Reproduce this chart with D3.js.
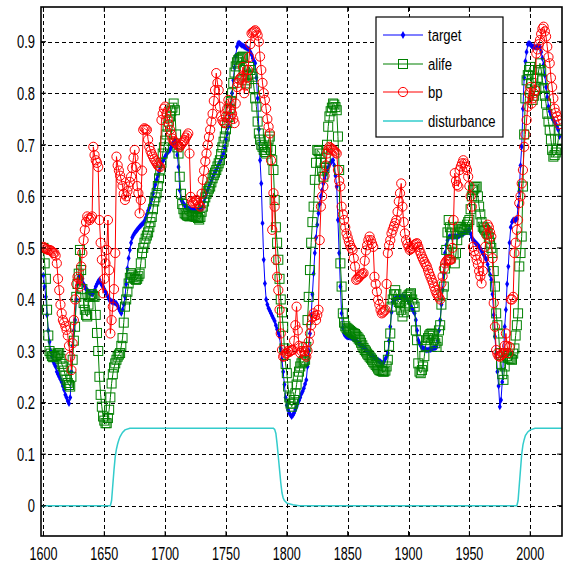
<!DOCTYPE html>
<html><head><meta charset="utf-8">
<script src="https://cdn.jsdelivr.net/npm/d3@7"></script>
<style>html,body{margin:0;padding:0;background:#fff;}svg{display:block;}</style>
</head><body>
<script>
// ---------- data (yearly, 1600..2024) ----------
const startYear = 1600;
const target = [
0.447,0.425,0.405,0.37,0.34,0.318,0.30,0.29,0.28,0.275,
0.27,0.26,0.255,0.25,0.245,0.24,0.232,0.225,0.215,0.21,
0.203,0.198,0.21,0.26,0.31,0.34,0.36,0.40,0.43,0.444,
0.445,0.444,0.44,0.43,0.425,0.42,0.418,0.415,0.413,0.412,
0.41,0.412,0.418,0.425,0.43,0.435,0.438,0.432,0.428,0.425,
0.42,0.415,0.41,0.405,0.40,0.398,0.396,0.395,0.394,0.393,
0.392,0.388,0.382,0.377,0.373,0.38,0.39,0.405,0.43,0.46,
0.48,0.496,0.51,0.52,0.525,0.529,0.532,0.535,0.538,0.541,
0.543,0.546,0.548,0.552,0.558,0.565,0.572,0.578,0.585,0.595,
0.605,0.615,0.623,0.632,0.64,0.648,0.655,0.662,0.668,0.672,
0.677,0.681,0.685,0.688,0.69,0.695,0.70,0.705,0.709,0.70,
0.68,0.657,0.612,0.595,0.59,0.586,0.583,0.58,0.578,0.576,
0.575,0.574,0.574,0.573,0.574,0.574,0.573,0.574,0.575,0.576,
0.574,0.58,0.59,0.598,0.606,0.612,0.618,0.624,0.63,0.636,
0.642,0.647,0.651,0.656,0.662,0.667,0.672,0.678,0.683,0.695,
0.71,0.722,0.735,0.755,0.778,0.80,0.825,0.85,0.872,0.89,
0.897,0.897,0.895,0.893,0.892,0.89,0.889,0.888,0.886,0.885,
0.88,0.875,0.868,0.862,0.858,0.83,0.79,0.73,0.67,0.625,
0.548,0.477,0.431,0.40,0.39,0.383,0.378,0.373,0.368,0.363,
0.358,0.35,0.342,0.335,0.328,0.305,0.283,0.26,0.235,0.21,
0.195,0.186,0.18,0.176,0.173,0.176,0.18,0.186,0.192,0.198,
0.204,0.21,0.217,0.222,0.228,0.236,0.244,0.27,0.30,0.334,
0.37,0.41,0.45,0.49,0.52,0.545,0.567,0.585,0.60,0.612,
0.625,0.635,0.643,0.65,0.656,0.662,0.665,0.668,0.67,0.66,
0.64,0.619,0.554,0.49,0.425,0.373,0.345,0.334,0.33,0.328,
0.327,0.327,0.326,0.326,0.325,0.324,0.322,0.319,0.317,0.315,
0.313,0.311,0.309,0.308,0.306,0.303,0.30,0.297,0.295,0.293,
0.291,0.289,0.287,0.285,0.283,0.282,0.28,0.279,0.277,0.276,
0.28,0.285,0.29,0.296,0.32,0.347,0.375,0.395,0.40,0.402,
0.403,0.404,0.405,0.405,0.405,0.406,0.405,0.405,0.405,0.40,
0.396,0.392,0.387,0.382,0.377,0.373,0.36,0.34,0.321,0.315,
0.31,0.307,0.305,0.304,0.303,0.302,0.302,0.303,0.303,0.304,
0.305,0.306,0.307,0.308,0.32,0.34,0.36,0.39,0.42,0.45,
0.49,0.505,0.515,0.52,0.522,0.522,0.521,0.522,0.522,0.522,
0.522,0.523,0.524,0.526,0.527,0.528,0.53,0.531,0.532,0.534,
0.535,0.528,0.52,0.515,0.513,0.51,0.508,0.505,0.502,0.499,
0.494,0.49,0.486,0.481,0.477,0.468,0.458,0.448,0.438,0.41,
0.37,0.328,0.295,0.26,0.232,0.192,0.205,0.24,0.29,0.347,
0.38,0.43,0.464,0.51,0.54,0.55,0.554,0.554,0.554,0.556,
0.58,0.61,0.66,0.696,0.77,0.83,0.862,0.88,0.895,0.897,
0.895,0.892,0.89,0.89,0.889,0.889,0.89,0.89,0.89,0.88,
0.868,0.855,0.835,0.812,0.792,0.774,0.765,0.758,0.752,0.748,
0.744,0.74,0.735,0.729,0.716];

const alife = [
0.50,0.47,0.44,0.38,0.33,0.30,0.295,0.29,0.288,0.289,
0.29,0.292,0.295,0.296,0.285,0.275,0.27,0.262,0.252,0.244,
0.238,0.234,0.231,0.25,0.283,0.32,0.347,0.405,0.43,0.45,
0.496,0.457,0.42,0.393,0.38,0.37,0.367,0.39,0.405,0.41,
0.41,0.407,0.405,0.37,0.335,0.30,0.25,0.215,0.192,0.173,
0.165,0.16,0.16,0.17,0.186,0.21,0.237,0.255,0.268,0.276,
0.283,0.289,0.293,0.296,0.31,0.325,0.355,0.386,0.40,0.415,
0.431,0.442,0.451,0.448,0.444,0.44,0.438,0.44,0.445,0.45,
0.47,0.49,0.50,0.51,0.518,0.524,0.53,0.54,0.55,0.56,
0.575,0.59,0.598,0.606,0.62,0.635,0.65,0.665,0.683,0.695,
0.708,0.72,0.735,0.745,0.755,0.765,0.772,0.78,0.767,0.72,
0.695,0.683,0.638,0.605,0.585,0.575,0.567,0.565,0.563,0.562,
0.561,0.562,0.563,0.562,0.561,0.56,0.561,0.558,0.555,0.56,
0.57,0.58,0.59,0.598,0.605,0.61,0.615,0.619,0.627,0.635,
0.641,0.646,0.651,0.658,0.664,0.67,0.682,0.695,0.706,0.716,
0.73,0.742,0.754,0.77,0.785,0.80,0.82,0.84,0.852,0.86,
0.864,0.866,0.868,0.87,0.871,0.845,0.825,0.819,0.835,0.851,
0.845,0.838,0.832,0.81,0.79,0.774,0.745,0.722,0.71,0.70,
0.696,0.69,0.686,0.683,0.695,0.71,0.716,0.69,0.67,0.651,
0.593,0.54,0.51,0.477,0.44,0.40,0.375,0.347,0.305,0.275,
0.257,0.231,0.21,0.198,0.192,0.198,0.205,0.218,0.235,0.25,
0.26,0.27,0.276,0.279,0.281,0.283,0.308,0.36,0.405,0.457,
0.51,0.55,0.58,0.632,0.665,0.69,0.688,0.683,0.665,0.65,
0.638,0.655,0.675,0.70,0.735,0.755,0.765,0.772,0.78,0.778,
0.773,0.767,0.716,0.651,0.47,0.425,0.373,0.355,0.348,0.345,
0.343,0.341,0.339,0.337,0.335,0.334,0.333,0.33,0.327,0.324,
0.321,0.316,0.311,0.306,0.302,0.299,0.295,0.292,0.289,0.286,
0.283,0.279,0.276,0.273,0.27,0.266,0.263,0.262,0.261,0.26,
0.26,0.262,0.27,0.283,0.31,0.334,0.386,0.40,0.41,0.418,
0.41,0.40,0.395,0.393,0.38,0.367,0.375,0.388,0.40,0.405,
0.408,0.41,0.412,0.40,0.393,0.386,0.34,0.321,0.276,0.26,
0.257,0.263,0.27,0.29,0.31,0.321,0.325,0.33,0.333,0.334,
0.33,0.322,0.315,0.308,0.32,0.34,0.35,0.39,0.41,0.425,
0.46,0.496,0.53,0.554,0.54,0.528,0.51,0.49,0.47,0.49,
0.515,0.53,0.541,0.54,0.537,0.536,0.535,0.54,0.545,0.55,
0.554,0.575,0.60,0.612,0.615,0.618,0.619,0.60,0.58,0.565,
0.55,0.541,0.538,0.535,0.532,0.528,0.52,0.51,0.50,0.49,
0.455,0.425,0.373,0.35,0.334,0.296,0.275,0.255,0.244,0.27,
0.296,0.29,0.287,0.285,0.284,0.283,0.295,0.305,0.33,0.35,
0.373,0.464,0.49,0.522,0.619,0.72,0.79,0.825,0.835,0.845,
0.851,0.82,0.787,0.795,0.805,0.812,0.83,0.845,0.858,0.845,
0.825,0.81,0.795,0.78,0.76,0.745,0.729,0.71,0.69,0.677,
0.68,0.685,0.69,0.71,0.729];

const bp = [
0.502,0.50,0.498,0.497,0.496,0.496,0.495,0.493,0.49,0.49,
0.485,0.47,0.44,0.418,0.39,0.373,0.36,0.355,0.348,0.341,
0.33,0.31,0.289,0.263,0.315,0.36,0.40,0.43,0.444,0.44,
0.425,0.464,0.49,0.515,0.535,0.55,0.561,0.557,0.554,0.558,
0.561,0.696,0.68,0.67,0.665,0.657,0.554,0.51,0.477,0.412,
0.44,0.47,0.496,0.554,0.457,0.334,0.36,0.386,0.42,0.49,
0.677,0.66,0.65,0.64,0.632,0.62,0.605,0.593,0.60,0.61,
0.619,0.628,0.638,0.655,0.675,0.69,0.657,0.62,0.606,0.567,
0.593,0.65,0.729,0.732,0.73,0.729,0.71,0.696,0.688,0.682,
0.677,0.672,0.668,0.664,0.66,0.658,0.657,0.748,0.76,0.77,
0.774,0.761,0.75,0.74,0.729,0.72,0.712,0.707,0.705,0.703,
0.70,0.698,0.696,0.70,0.703,0.706,0.709,0.714,0.718,0.722,
0.683,0.599,0.59,0.587,0.59,0.592,0.593,0.587,0.582,0.58,
0.605,0.632,0.65,0.668,0.683,0.70,0.715,0.729,0.745,0.76,
0.785,0.806,0.839,0.82,0.806,0.774,0.755,0.748,0.744,0.742,
0.755,0.77,0.787,0.78,0.767,0.76,0.75,0.742,0.78,0.812,
0.82,0.826,0.83,0.832,0.851,0.80,0.815,0.83,0.845,0.87,
0.895,0.916,0.918,0.92,0.922,0.918,0.912,0.90,0.871,0.845,
0.82,0.80,0.787,0.77,0.75,0.735,0.722,0.67,0.535,0.606,
0.58,0.477,0.444,0.418,0.38,0.334,0.302,0.289,0.29,0.295,
0.296,0.30,0.298,0.30,0.302,0.302,0.32,0.35,0.386,0.34,
0.31,0.296,0.30,0.308,0.30,0.292,0.289,0.30,0.318,0.334,
0.35,0.365,0.373,0.368,0.36,0.37,0.38,0.515,0.58,0.60,
0.619,0.64,0.66,0.683,0.69,0.696,0.694,0.692,0.69,0.688,
0.685,0.683,0.651,0.63,0.619,0.58,0.565,0.554,0.54,0.528,
0.52,0.512,0.505,0.50,0.496,0.48,0.464,0.438,0.44,0.443,
0.445,0.448,0.45,0.451,0.475,0.495,0.505,0.515,0.522,0.515,
0.508,0.502,0.444,0.43,0.415,0.399,0.39,0.38,0.373,0.375,
0.378,0.38,0.43,0.49,0.505,0.515,0.528,0.535,0.542,0.548,
0.554,0.57,0.59,0.606,0.625,0.58,0.55,0.528,0.515,0.508,
0.502,0.496,0.498,0.50,0.503,0.506,0.508,0.509,0.502,0.495,
0.489,0.483,0.478,0.473,0.468,0.464,0.457,0.45,0.444,0.438,
0.432,0.425,0.418,0.412,0.408,0.404,0.40,0.431,0.445,0.46,
0.47,0.474,0.477,0.477,0.477,0.477,0.50,0.554,0.645,0.63,
0.622,0.619,0.651,0.658,0.664,0.67,0.664,0.657,0.651,0.638,
0.62,0.60,0.58,0.502,0.494,0.486,0.477,0.468,0.455,0.445,
0.431,0.455,0.48,0.502,0.525,0.545,0.54,0.53,0.522,0.48,
0.393,0.347,0.302,0.295,0.29,0.289,0.292,0.295,0.296,0.31,
0.334,0.31,0.296,0.308,0.40,0.40,0.405,0.49,0.51,0.535,
0.554,0.587,0.60,0.625,0.651,0.696,0.72,0.748,0.774,0.80,
0.812,0.78,0.79,0.80,0.806,0.877,0.885,0.895,0.903,0.915,
0.925,0.929,0.92,0.91,0.89,0.87,0.858,0.83,0.812,0.79,
0.77,0.762,0.755,0.748,0.74];

const distYears  = [1598,1655,1656,1657,1658,1659,1660,1661,1662,1663,1665,1667,1671,1789,1790,1791,1792,1793,1794,1795,1796,1797,1798,1800,1805,1810,1989,1990,1991,1992,1993,1994,1995,1996,1998,2000,2004,2026];
const distValues = [0,0,0.01,0.04,0.07,0.095,0.11,0.12,0.128,0.134,0.142,0.147,0.15,0.15,0.148,0.14,0.12,0.095,0.07,0.045,0.025,0.015,0.01,0.005,0.002,0,0,0.01,0.04,0.07,0.10,0.118,0.128,0.136,0.143,0.147,0.15,0.15];

const xTicks = [1600,1650,1700,1750,1800,1850,1900,1950,2000];
const yTicks = [0,0.1,0.2,0.3,0.4,0.5,0.6,0.7,0.8,0.9];
const seriesNames = ["target","alife","bp","disturbance"];

// ---------- drawing ----------
const W = 571, H = 566;
const L = 41, R = 562, T = 7, B = 536;
const svg = d3.select("body").append("svg").attr("width", W).attr("height", H);
svg.append("rect").attr("width", W).attr("height", H).attr("fill", "#fff");

const x = d3.scaleLinear().domain([1598, 2026.1]).range([L, R]);
const y = d3.scaleLinear().domain([-0.0588, 0.9672]).range([B, T]);

const font = "'Liberation Sans', Arial, sans-serif";

// grid
const grid = svg.append("g").attr("stroke", "#000").attr("stroke-width", 1).attr("stroke-dasharray", "4,3");
xTicks.forEach(t => grid.append("line").attr("x1", Math.round(x(t)) + 0.5).attr("x2", Math.round(x(t)) + 0.5).attr("y1", T).attr("y2", B));
yTicks.forEach(t => grid.append("line").attr("y1", Math.round(y(t)) + 0.5).attr("y2", Math.round(y(t)) + 0.5).attr("x1", L).attr("x2", R));

// clip
svg.append("clipPath").attr("id", "clip").append("rect").attr("x", L).attr("y", T).attr("width", R - L).attr("height", B - T);
const plot = svg.append("g").attr("clip-path", "url(#clip)");

const years = target.map((d, i) => startYear + i);
const line = d3.line().x(d => x(d[0])).y(d => y(d[1]));

function pairs(arr) { return arr.map((v, i) => [years[i], v]); }

// target (blue, small diamond markers)
const tData = pairs(target);
plot.append("path").attr("d", line(tData)).attr("fill", "none").attr("stroke", "#0000ff").attr("stroke-width", 1);
const diamond = d3.symbol().type(d3.symbolDiamond).size(14);
plot.append("g").selectAll("path").data(tData).join("path")
  .attr("d", diamond).attr("transform", d => `translate(${x(d[0])},${y(d[1])})`).attr("fill", "#0000ff");

// alife (green squares)
const aData = pairs(alife);
plot.append("path").attr("d", line(aData)).attr("fill", "none").attr("stroke", "#008000").attr("stroke-width", 1);
plot.append("g").selectAll("rect").data(aData).join("rect")
  .attr("x", d => x(d[0]) - 4.5).attr("y", d => y(d[1]) - 4.5).attr("width", 9).attr("height", 9)
  .attr("fill", "none").attr("stroke", "#008000").attr("stroke-width", 1);

// bp (red circles)
const bData = pairs(bp);
plot.append("path").attr("d", line(bData)).attr("fill", "none").attr("stroke", "#ff0000").attr("stroke-width", 1);
plot.append("g").selectAll("circle").data(bData).join("circle")
  .attr("cx", d => x(d[0])).attr("cy", d => y(d[1])).attr("r", 4.6)
  .attr("fill", "none").attr("stroke", "#ff0000").attr("stroke-width", 1);

// disturbance (cyan)
const dData = distYears.map((yr, i) => [yr, distValues[i]]);
plot.append("path").attr("d", line(dData)).attr("fill", "none").attr("stroke", "#33cccc").attr("stroke-width", 1.5);

// axes box
svg.append("rect").attr("x", L).attr("y", T).attr("width", R - L).attr("height", B - T)
  .attr("fill", "none").attr("stroke", "#000").attr("stroke-width", 1.6);

// ticks (inside)
const tk = svg.append("g").attr("stroke", "#000").attr("stroke-width", 1);
xTicks.forEach(t => {
  tk.append("line").attr("x1", x(t)).attr("x2", x(t)).attr("y1", B).attr("y2", B - 5);
  tk.append("line").attr("x1", x(t)).attr("x2", x(t)).attr("y1", T).attr("y2", T + 5);
});
yTicks.forEach(t => {
  tk.append("line").attr("x1", L).attr("x2", L + 5).attr("y1", y(t)).attr("y2", y(t));
  tk.append("line").attr("x1", R).attr("x2", R - 5).attr("y1", y(t)).attr("y2", y(t));
});

// tick labels
xTicks.forEach(t => {
  svg.append("text").attr("transform", `translate(${x(t)},560) scale(0.68,1)`)
    .attr("text-anchor", "middle").attr("font-family", font).attr("font-size", 18.5).attr("fill", "#000").text(t);
});
yTicks.forEach(t => {
  svg.append("text").attr("transform", `translate(35,${y(t) + 6.8}) scale(0.7,1)`)
    .attr("text-anchor", "end").attr("font-family", font).attr("font-size", 18.5).attr("fill", "#000").text(t === 0 ? "0" : t.toFixed(1));
});

// legend
const lg = svg.append("g");
lg.append("rect").attr("x", 376).attr("y", 17).attr("width", 127).attr("height", 120)
  .attr("fill", "#fff").attr("stroke", "#000").attr("stroke-width", 1.2);
const legY = [35, 64, 92, 121];
const legColors = ["#0000ff", "#008000", "#ff0000", "#33cccc"];
seriesNames.forEach((name, i) => {
  const yy = legY[i];
  lg.append("line").attr("x1", 383).attr("x2", 423).attr("y1", yy).attr("y2", yy)
    .attr("stroke", legColors[i]).attr("stroke-width", i === 3 ? 1.5 : 1.2);
  if (i === 0) lg.append("path").attr("d", d3.symbol().type(d3.symbolDiamond).size(18)).attr("transform", `translate(403,${yy})`).attr("fill", legColors[i]);
  if (i === 1) lg.append("rect").attr("x", 403 - 4.5).attr("y", yy - 4.5).attr("width", 9).attr("height", 9).attr("fill", "none").attr("stroke", legColors[i]);
  if (i === 2) lg.append("circle").attr("cx", 403).attr("cy", yy).attr("r", 4.6).attr("fill", "none").attr("stroke", legColors[i]);
  lg.append("text").attr("transform", `translate(428,${yy + 5.5}) scale(0.77,1)`)
    .attr("font-family", font).attr("font-size", 17).attr("fill", "#000").text(name);
});
</script>
</body></html>
